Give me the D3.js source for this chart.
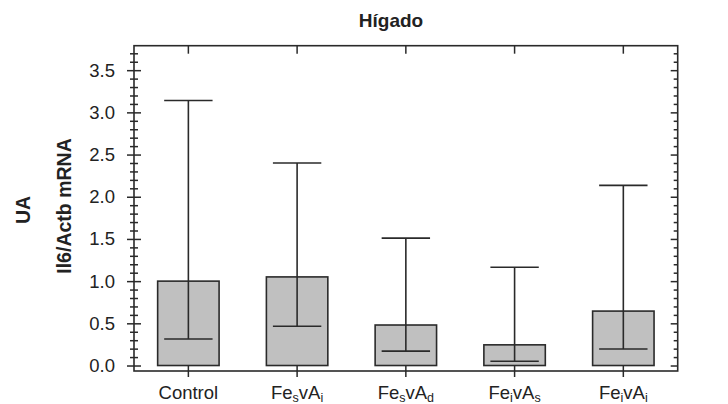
<!DOCTYPE html>
<html lang="es">
<head>
  <meta charset="UTF-8">
  <style>
    body { margin: 0; background: #fff; }
    text { font-family: Arial, "Liberation Sans", sans-serif; fill: #222; }
    .axis path, .axis line { stroke: #2a2a2a; stroke-width: 1.5; }
    .bars { fill: #c0c0c0; stroke: #2a2a2a; stroke-width: 1.6; }
    .whisker { stroke: #2a2a2a; stroke-width: 1.6; }
  </style>
  <title>Hígado</title>
  <script src="https://d3js.org/d3.v7.min.js"></script>
</head>
<body>
<svg id="chart"></svg>
<script>

const categories = ['Control', 'FesvAi', 'FesvAd', 'FeivAs', 'FeivAi'];
// label pieces: [text, subscript?]
const labelParts = [
  [['Control', false]],
  [['Fe', false], ['s', true], ['vA', false], ['i', true]],
  [['Fe', false], ['s', true], ['vA', false], ['d', true]],
  [['Fe', false], ['i', true], ['vA', false], ['s', true]],
  [['Fe', false], ['i', true], ['vA', false], ['i', true]]
];
const barValues = [1.00, 1.05, 0.48, 0.245, 0.645];
const medianValues = [0.315, 0.465, 0.17, 0.05, 0.195];
const topValues = [3.14, 2.40, 1.51, 1.165, 2.135];
const majorTicks = [0, 0.5, 1.0, 1.5, 2.0, 2.5, 3.0, 3.5];

const data = categories.map(function(d, i) {
  return {name: d, parts: labelParts[i], bar: barValues[i], med: medianValues[i], top: topValues[i]};
});

const width = 728, height = 404;
const margin = {top: 45.7, right: 50.3, bottom: 33, left: 134};

const svg = d3.select('#chart')
  .attr('width', width)
  .attr('height', height);

const xScale = d3.scaleBand()
  .domain(categories)
  .range([margin.left, width - margin.right])
  .paddingInner(0)
  .paddingOuter(0);
const yScale = d3.scaleLinear()
  .domain([-0.065, 3.79])
  .range([height - margin.bottom, margin.top]);

const minorTicks = d3.range(1, 38).filter(function(i) { return i % 5 !== 0; })
  .map(function(i) { return i / 10; });
const cx = function(d) { return xScale(d.name) + xScale.bandwidth() / 2; };
const barW = xScale.bandwidth() * 0.565;
const capW = xScale.bandwidth() * 0.445;

// bars
svg.selectAll('.bars')
  .data(data)
  .enter()
  .append('rect')
  .attr('class', 'bars')
  .attr('x', function(d) { return cx(d) - barW / 2; })
  .attr('y', function(d) { return yScale(d.bar); })
  .attr('width', barW)
  .attr('height', function(d) { return yScale(0) - yScale(d.bar); });

// vertical whisker from median up to top
svg.selectAll('.stem')
  .data(data)
  .enter()
  .append('line')
  .attr('class', 'whisker')
  .attr('x1', cx).attr('x2', cx)
  .attr('y1', function(d) { return yScale(d.med); })
  .attr('y2', function(d) { return yScale(d.top); });

svg.selectAll('.cap')
  .data(data)
  .enter()
  .append('line')
  .attr('class', 'whisker')
  .attr('x1', function(d) { return cx(d) - capW / 2; })
  .attr('x2', function(d) { return cx(d) + capW / 2; })
  .attr('y1', function(d) { return yScale(d.top); })
  .attr('y2', function(d) { return yScale(d.top); });

svg.selectAll('.med')
  .data(data)
  .enter()
  .append('line')
  .attr('class', 'whisker')
  .attr('x1', function(d) { return cx(d) - capW / 2; })
  .attr('x2', function(d) { return cx(d) + capW / 2; })
  .attr('y1', function(d) { return yScale(d.med); })
  .attr('y2', function(d) { return yScale(d.med); });

const x0 = margin.left, x1 = width - margin.right;
const y0 = height - margin.bottom, y1 = margin.top;

// left axis: major ticks with labels, crossing the axis line
const leftMajor = svg.append('g')
  .attr('class', 'axis')
  .attr('transform', 'translate(' + x0 + ',0)')
  .call(d3.axisLeft(yScale).tickValues(majorTicks).tickSize(7).tickSizeOuter(0)
    .tickPadding(12).tickFormat(d3.format('.1f')));
leftMajor.selectAll('.tick line').attr('x1', 7);
leftMajor.selectAll('.tick text').style('font-size', '18.5px').attr('fill', '#222');
leftMajor.select('.domain').remove();

const leftMinor = svg.append('g')
  .attr('class', 'axis')
  .attr('transform', 'translate(' + x0 + ',0)')
  .call(d3.axisLeft(yScale).tickValues(minorTicks).tickSize(4).tickFormat(''));
leftMinor.selectAll('.tick line').attr('x1', 4);
leftMinor.select('.domain').remove();

// right axis: inward ticks
const rightMajor = svg.append('g')
  .attr('class', 'axis')
  .attr('transform', 'translate(' + x1 + ',0)')
  .call(d3.axisLeft(yScale).tickValues(majorTicks).tickSize(7).tickFormat(''));
rightMajor.select('.domain').remove();
const rightMinor = svg.append('g')
  .attr('class', 'axis')
  .attr('transform', 'translate(' + x1 + ',0)')
  .call(d3.axisLeft(yScale).tickValues(minorTicks).tickSize(4).tickFormat(''));
rightMinor.select('.domain').remove();

// top axis: inward ticks at categories
const topAxis = svg.append('g')
  .attr('class', 'axis')
  .attr('transform', 'translate(0,' + y1 + ')')
  .call(d3.axisBottom(xScale).tickSize(8).tickFormat(''));
topAxis.select('.domain').remove();

// bottom axis: ticks crossing, labels with subscripts
const bottomAxis = svg.append('g')
  .attr('class', 'axis')
  .attr('transform', 'translate(0,' + y0 + ')')
  .call(d3.axisBottom(xScale).tickSize(6).tickFormat(''));
bottomAxis.selectAll('.tick line').attr('y1', -6);
bottomAxis.select('.domain').remove();

// frame
svg.append('rect')
  .attr('x', x0).attr('y', y1)
  .attr('width', x1 - x0).attr('height', y0 - y1)
  .attr('fill', 'none')
  .attr('stroke', '#2a2a2a')
  .attr('stroke-width', 1.6);

const xLabels = svg.selectAll('.xlabel')
  .data(data)
  .enter()
  .append('text')
  .attr('class', 'xlabel')
  .attr('x', cx)
  .attr('y', 398.5)
  .attr('text-anchor', 'middle')
  .style('font-size', '18.5px');
xLabels.each(function(d) {
  const t = d3.select(this);
  let wasSub = false;
  d.parts.forEach(function(p) {
    const span = t.append('tspan').text(p[0]);
    if (p[1]) {
      span.style('font-size', '12.5px').attr('dy', wasSub ? 0 : 3);
    } else {
      span.attr('dy', wasSub ? -3 : 0);
    }
    wasSub = p[1];
  });
});

// title
svg.append('text')
  .attr('x', 391)
  .attr('y', 27)
  .attr('text-anchor', 'middle')
  .style('font-size', '19px')
  .style('font-weight', 'bold')
  .text('Hígado');

// y labels
svg.append('text')
  .attr('transform', 'translate(70.5,206) rotate(-90)')
  .attr('text-anchor', 'middle')
  .style('font-size', '19.5px')
  .style('font-weight', 'bold')
  .text('Il6/Actb mRNA');

svg.append('text')
  .attr('transform', 'translate(30,210) rotate(-90)')
  .attr('text-anchor', 'middle')
  .style('font-size', '19.5px')
  .style('font-weight', 'bold')
  .text('UA');

</script>
</body>
</html>
